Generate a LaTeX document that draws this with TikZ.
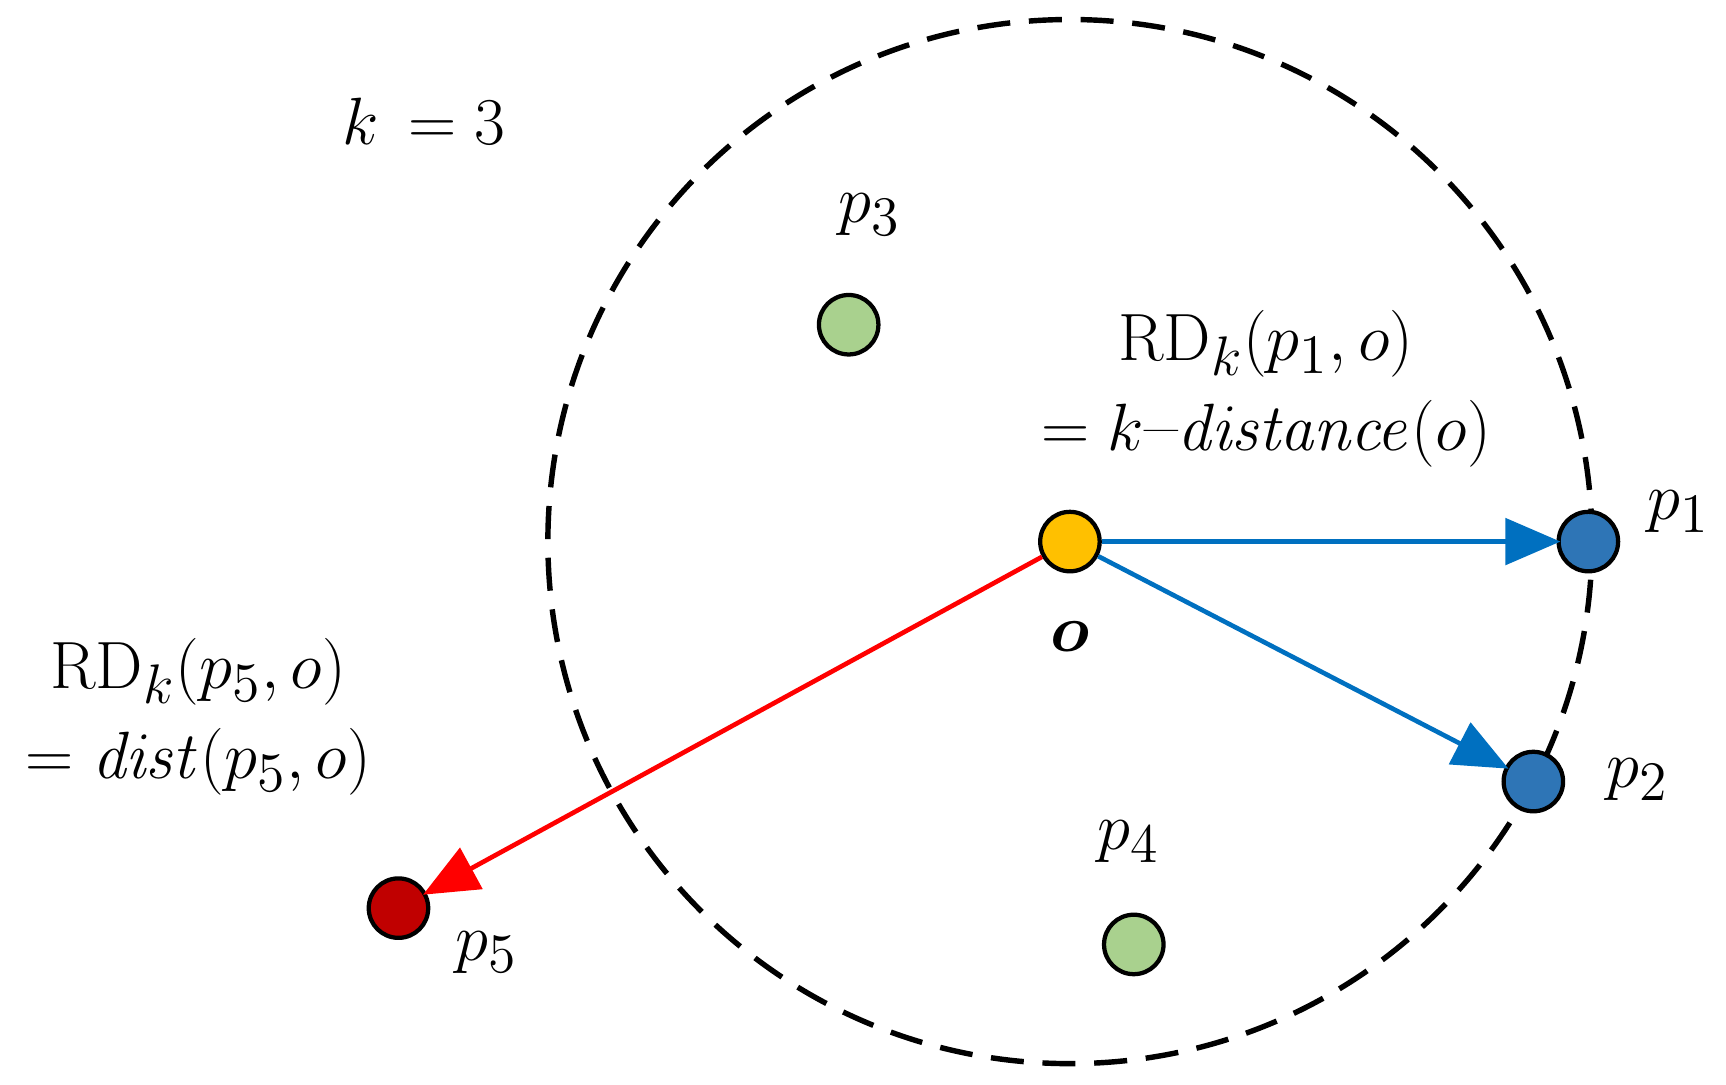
\documentclass[tikz,border=0pt]{standalone}
\usepackage{amsmath,bm}
\usetikzlibrary{arrows.meta}
\definecolor{cyel}{HTML}{FFC000}
\definecolor{cblue}{HTML}{2E75B6}
\definecolor{cgreen}{HTML}{A9D18E}
\definecolor{cred}{HTML}{C00000}
\definecolor{arrblue}{HTML}{0070C0}
\begin{document}
\begin{tikzpicture}[x=0.01cm,y=-0.01cm,
  dot/.style={circle,draw=black,line width=1.1pt,minimum size=0.54cm,inner sep=0pt},
  lbl/.style={font=\fontsize{19}{23}\selectfont,inner sep=0pt},
  arr/.style={line width=1.2pt,-{Triangle[length=0.5cm,width=0.42cm]},shorten >=-1pt}]
\useasboundingbox (0,0) rectangle (1568,985);
\node[draw=black,circle,dashed,dash pattern=on 0.3cm off 0.17cm,line width=1.4pt,minimum size=9.48cm,inner sep=0pt] (c) at (972,492) {};
\node[dot,fill=cyel] (o) at (972,492) {};
\node[dot,fill=cblue] (p1) at (1443,492) {};
\node[dot,fill=cblue] (p2) at (1393,710) {};
\node[dot,fill=cgreen] (p3) at (771,295) {};
\node[dot,fill=cgreen] (p4) at (1030,858) {};
\node[dot,fill=cred] (p5) at (362,825) {};
\draw[arr,draw=arrblue,arrblue] (o) -- (p1);
\draw[arr,draw=arrblue,arrblue] (o) -- (p2);
\draw[arr,draw=red,red] (o) -- (p5);
\node[lbl] (k) at (385,110) {$k\,=3$};
\node[lbl] (l3) at (790,195) {$p_3$};
\node[lbl] (l1) at (1525,465) {$p_1$};
\node[lbl] (l2) at (1488,708) {$p_2$};
\node[lbl] (l4) at (1025,765) {$p_4$};
\node[lbl] (l5) at (442,865) {$p_5$};
\node[lbl] (lo) at (972,578) {$\bm{o}$};
\node[lbl] (rd1) at (1150,312) {$\mathrm{RD}_k(p_1,o)$};
\node[lbl] (kd) at (1150,394) {$=k\text{--}\mathit{distance}(o)$};
\node[lbl] (rd5) at (180,610) {$\mathrm{RD}_k(p_5,o)$};
\node[lbl] (ds) at (180,692) {$=\mathit{dist}(p_5,o)$};
\end{tikzpicture}
\end{document}
